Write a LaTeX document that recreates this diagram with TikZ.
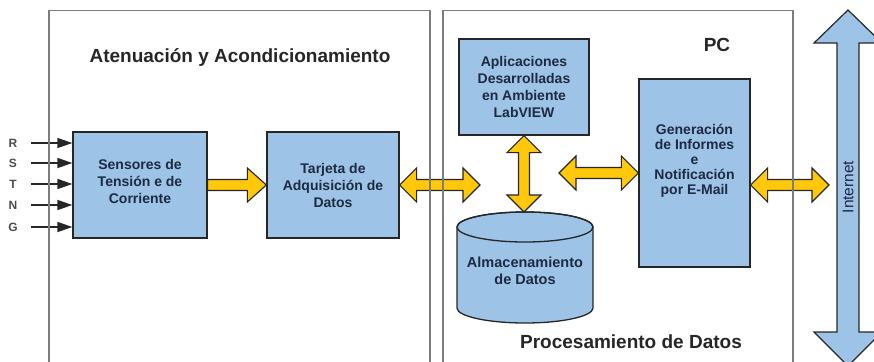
\documentclass[tikz,border=0pt]{standalone}
\usepackage{fontspec}
\setmainfont{Liberation Sans}
\usetikzlibrary{arrows.meta,calc}
\definecolor{boxblue}{RGB}{157,195,230}
\definecolor{ayellow}{RGB}{255,200,10}
\definecolor{txtnavy}{RGB}{30,42,66}
\definecolor{panelgray}{RGB}{125,125,125}
\newcommand{\yDblH}[2]{%
  \filldraw[yarrow] let \p1=(#1), \p2=(#2) in
   (\x1,\y1) -- ({\x1+17pt},{\y1+17pt}) -- ({\x1+17pt},{\y1+5.5pt}) -- ({\x2-17pt},{\y1+5.5pt})
   -- ({\x2-17pt},{\y1+17pt}) -- (\x2,\y1) -- ({\x2-17pt},{\y1-17pt}) -- ({\x2-17pt},{\y1-5.5pt})
   -- ({\x1+17pt},{\y1-5.5pt}) -- ({\x1+17pt},{\y1-17pt}) -- cycle;}
\newcommand{\yDblV}[2]{%
  \filldraw[yarrow] let \p1=(#1), \p2=(#2) in
   (\x1,\y1) -- ({\x1+17pt},{\y1-17pt}) -- ({\x1+5.5pt},{\y1-17pt}) -- ({\x1+5.5pt},{\y2+17pt})
   -- ({\x1+17pt},{\y2+17pt}) -- (\x1,\y2) -- ({\x1-17pt},{\y2+17pt}) -- ({\x1-5.5pt},{\y2+17pt})
   -- ({\x1-5.5pt},{\y1-17pt}) -- ({\x1-17pt},{\y1-17pt}) -- cycle;}
\newcommand{\ySglH}[2]{%
  \filldraw[yarrow] let \p1=(#1), \p2=(#2) in
   (\x1,{\y1+5.5pt}) -- ({\x2-19pt},{\y1+5.5pt}) -- ({\x2-19pt},{\y1+17pt}) -- (\x2,\y1)
   -- ({\x2-19pt},{\y1-17pt}) -- ({\x2-19pt},{\y1-5.5pt}) -- (\x1,{\y1-5.5pt}) -- cycle;}
\begin{document}
\begin{tikzpicture}[x=1pt,y=-1pt,
  blk/.style={draw=black!85, line width=1.3pt, fill=boxblue, inner sep=0pt, text=txtnavy,
    font=\bfseries\fontsize{14}{17}\selectfont, align=center},
  blktext/.style={inner sep=0pt, text=txtnavy, font=\bfseries\fontsize{14}{15}\selectfont, align=center},
  yarrow/.style={draw=black!85, line width=1.1pt, fill=ayellow, line join=miter},
  netarrow/.style={draw=black!85, line width=1.2pt, fill=boxblue, line join=miter},
  panelline/.style={draw=panelgray, line width=1.2pt},
  inarrow/.style={line width=1.5pt, draw=black!85, -{Triangle[length=15pt,width=10pt]}},
  lbl/.style={font=\bfseries\fontsize{12}{14}\selectfont, text=black!70},
  ttl/.style={font=\bfseries\fontsize{19}{22}\selectfont, text=black!85}
]
\useasboundingbox (0,0) rectangle (874,361);
\clip (0,0) rectangle (874,361);

% titles
\node[ttl] (tatt) at (240,58) {Atenuación y Acondicionamiento};
\node[ttl] (tpc) at (717,45) {PC};
\node[ttl] (tproc) at (631,342) {Procesamiento de Datos};

% boxes
\node[blk, minimum width=134pt, minimum height=106pt] (sens) at (140,185) {};
\node[blktext, font=\bfseries\fontsize{14}{17}\selectfont] (senstxt) at (140,181) {Sensores de\\Tensión e de\\Corriente};
\node[blk, minimum width=132pt, minimum height=106pt] (tarj) at (333,185) {Tarjeta de\\Adquisición de\\Datos};
\node[blk, minimum width=130pt, minimum height=96pt] (apl) at (524,87) {Aplicaciones\\Desarrolladas\\en Ambiente\\LabVIEW};
\node[blk, minimum width=111pt, minimum height=188pt] (gen) at (694.5,173) {};
\node[blktext] (gentxt) at (694.5,161) {Generación\\de Informes\\e\\Notificación\\por E-Mail};

% cylinder
\filldraw[draw=black!85, line width=1.3pt, fill=boxblue]
  (457,227) -- (457,308) arc[start angle=180, end angle=0, x radius=68, y radius=15]
  -- (593,227) arc[start angle=0, end angle=-180, x radius=68, y radius=15] -- cycle;
\draw[draw=black!85, line width=1.3pt] (525,227) ellipse[x radius=68, y radius=15];
\node[blktext, font=\bfseries\fontsize{14.5}{17}\selectfont] (alm) at (525,271) {Almacenamiento\\de Datos};
\coordinate (cyltop) at (525,212);

% internet arrow
\filldraw[netarrow] (848,10) -- (882,43) -- (859,43) -- (859,332) -- (882,332) -- (848,366)
  -- (814,332) -- (837,332) -- (837,43) -- (814,43) -- cycle;
\node[rotate=90, font=\fontsize{15.5}{18}\selectfont, text=txtnavy] (inet) at (848,187) {Internet};

% input arrows
\foreach \l/\yy in {R/143,S/163,T/184,N/205,G/227}{
  \node[lbl] (l\l) at (13,\yy) {\l};
  \coordinate (a\l) at (31,\yy);
  \draw[inarrow] (a\l) -- (a\l -| sens.west);
}

% yellow arrows
\coordinate (pcin) at (480,185);
\coordinate (midl) at (559,173);
\coordinate (inetl) at (829,185);
\ySglH{sens.east}{tarj.west}
\yDblH{tarj.east}{pcin}
\yDblV{apl.south}{cyltop}
\yDblH{midl}{gen.west}
\yDblH{gen.east |- tarj.east}{inetl}

% panels
\draw[panelline] (49,370) -- (49,10.5) -- (430,10.5) -- (430,370);
\draw[panelline] (443,370) -- (443,10.5) -- (793,10.5) -- (793,370);
\end{tikzpicture}
\end{document}
